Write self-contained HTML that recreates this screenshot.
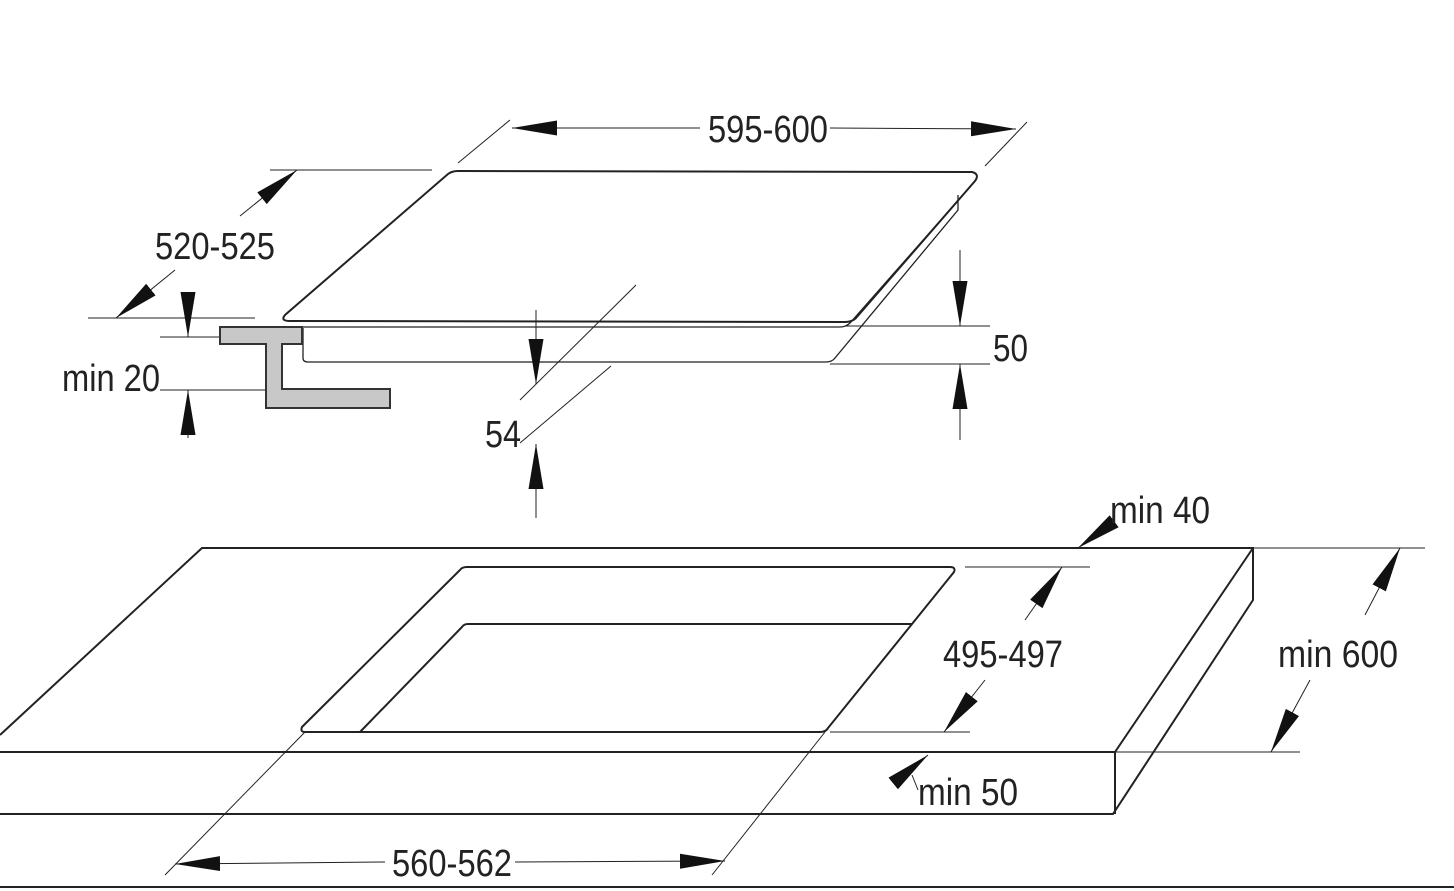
<!DOCTYPE html>
<html><head><meta charset="utf-8"><style>
html,body{margin:0;padding:0;background:#fff;}
svg{display:block;}
text{font-family:"Liberation Sans",sans-serif;font-size:38px;fill:#222;}
</style></head><body>
<svg width="1454" height="891" viewBox="0 0 1454 891" xmlns="http://www.w3.org/2000/svg">
<defs>
<marker id="a" viewBox="0 0 45 16" refX="45" refY="8" markerWidth="45" markerHeight="16" markerUnits="userSpaceOnUse" orient="auto">
<path d="M0,0.5 L45,8 L0,15.5 z" fill="#111"/>
</marker>
</defs>
<g fill="none" stroke="#222" stroke-width="1.3">
<path d="M290,321 L845,322 Q852,322 856,318 L975,181 Q980,174 972,172 L458,171 Q452,171 448,174 L285,315 Q280,321 290,321" stroke-width="2"/>
<path d="M290,327 L840,327 Q846,327 850,323 L962,196"/>
<path d="M958,195 L958,210 L835,358 Q832,362 826,362 L308,362 Q303,362 303,358 L303,328"/>
<path d="M0,735 L202,548 L1253,548 L1253,600 L1113,814 L0,814" stroke-width="2"/>
<path d="M0,752 L1115,752 L1253,548 M1115,752 L1115,814" stroke-width="2"/>
<path d="M305,732 Q300,732 302,727 L460,570 Q462,567 467,567 L950,567 Q956,567 954,572 L828,728 Q826,732 820,732 Z" stroke-width="2"/>
<path d="M360,732 L462,627 Q464,624 468,624 L912,624" stroke-width="2"/>
<line x1="0" y1="887" x2="1454" y2="887" stroke-width="2"/>
<g stroke-width="1">
<line x1="458" y1="163" x2="510" y2="120"/><line x1="985" y1="166" x2="1027" y2="122"/>
<line x1="270" y1="170" x2="432" y2="170"/><line x1="88" y1="318" x2="255" y2="318"/>
<line x1="160" y1="337" x2="300" y2="337"/><line x1="160" y1="390" x2="265" y2="390"/>
<line x1="520" y1="400" x2="636" y2="285"/><line x1="520" y1="443" x2="611" y2="366"/>
<line x1="845" y1="326" x2="990" y2="326"/><line x1="830" y1="364" x2="990" y2="364"/>
<line x1="965" y1="567" x2="1090" y2="567"/><line x1="830" y1="732" x2="970" y2="732"/>
<line x1="1253" y1="548" x2="1425" y2="548"/><line x1="1115" y1="752" x2="1300" y2="752"/>
<line x1="305" y1="732" x2="165" y2="875"/><line x1="825" y1="732" x2="712" y2="875"/>
<line x1="918" y1="790" x2="912" y2="775"/>
</g>
<g stroke-width="1" marker-end="url(#a)">
<line x1="700" y1="128" x2="512" y2="128"/><line x1="830" y1="128" x2="1016" y2="129"/>
<line x1="240" y1="216" x2="297" y2="170"/><line x1="175" y1="270" x2="116" y2="318"/>
<line x1="188" y1="310" x2="188" y2="337"/><line x1="188" y1="438" x2="188" y2="390"/>
<line x1="536" y1="310" x2="536" y2="384"/><line x1="536" y1="518" x2="536" y2="444"/>
<line x1="960" y1="250" x2="960" y2="326"/><line x1="960" y1="440" x2="960" y2="364"/>
<line x1="1025" y1="620" x2="1062" y2="567"/><line x1="985" y1="680" x2="944" y2="732"/>
<line x1="1365" y1="615" x2="1400" y2="548"/><line x1="1310" y1="680" x2="1271" y2="752"/>
<line x1="1105" y1="528" x2="1078" y2="548"/>
<line x1="895" y1="782" x2="928" y2="755"/>
<line x1="385" y1="862" x2="175" y2="864"/><line x1="515" y1="862" x2="725" y2="861"/>
</g>
</g>
<polygon points="220,327 302,327 302,344 282,344 282,389 390,389 390,408 266,408 266,344 220,344" fill="#c8c8c8" stroke="#333" stroke-width="2"/>
<text x="708" y="142" textLength="120" lengthAdjust="spacingAndGlyphs">595-600</text>
<text x="155" y="259" textLength="120" lengthAdjust="spacingAndGlyphs">520-525</text>
<text x="62" y="391" textLength="98" lengthAdjust="spacingAndGlyphs">min 20</text>
<text x="485" y="447" textLength="36" lengthAdjust="spacingAndGlyphs">54</text>
<text x="993" y="361" textLength="35" lengthAdjust="spacingAndGlyphs">50</text>
<text x="1110" y="523" textLength="100" lengthAdjust="spacingAndGlyphs">min 40</text>
<text x="943" y="667" textLength="120" lengthAdjust="spacingAndGlyphs">495-497</text>
<text x="1278" y="667" textLength="120" lengthAdjust="spacingAndGlyphs">min 600</text>
<text x="918" y="805" textLength="100" lengthAdjust="spacingAndGlyphs">min 50</text>
<text x="392" y="876" textLength="120" lengthAdjust="spacingAndGlyphs">560-562</text>
</svg>
</body></html>
